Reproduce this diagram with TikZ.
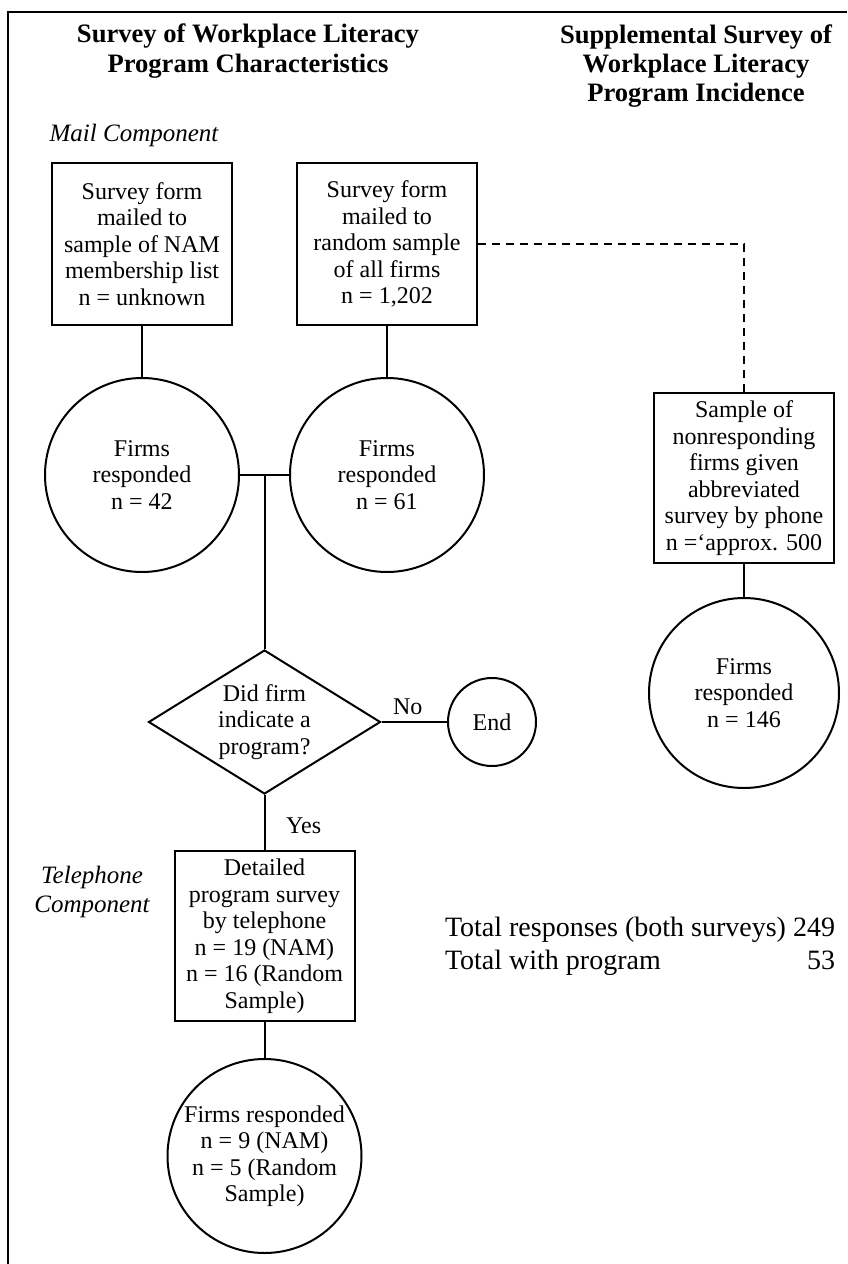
\documentclass[tikz,border=0pt]{standalone}
\usepackage{fontspec}
\setmainfont{Liberation Serif}
\usetikzlibrary{shapes.geometric, calc}

\newcommand{\boxfont}{\fontsize{12}{13.25}\selectfont}
\newcommand{\headfont}{\fontsize{13.3}{14.6}\selectfont\bfseries}
\newcommand{\totfont}{\fontsize{14}{16.5}\selectfont}

\begin{document}
\begin{tikzpicture}[x=0.5pt, y=-0.5pt, line width=1pt,
  stepbox/.style={draw, align=center, font=\boxfont, inner sep=2pt,
    minimum width=90pt, minimum height=81pt},
  resp/.style={draw, circle, align=center, font=\boxfont, inner sep=0pt,
    minimum size=97pt},
  decide/.style={draw, diamond, inner sep=0pt,
    minimum width=116pt, minimum height=72pt},
  lbl/.style={font=\boxfont, align=center},
  part/.style={font=\fontsize{12.5}{14.5}\selectfont\itshape, align=center}]
  \useasboundingbox (0,0) rectangle (847,1264);
  % frame
  \draw (8,1264) -- (8,12) -- (847,12);
  % headings
  \node[font=\headfont, align=center] (headL) at (248,51)
    {Survey of Workplace Literacy\\Program Characteristics};
  \node[font=\headfont, align=center] (headR) at (696,66)
    {Supplemental Survey of\\Workplace Literacy\\Program Incidence};
  \node[part, anchor=west] (mail) at (42,135) {Mail Component};
  \node[part] (phone) at (92,892) {Telephone\\Component};
  % mail component
  \node[stepbox] (nam) at (142,244)
    {Survey form\\mailed to\\sample of NAM\\membership list\\n = unknown};
  \node[stepbox] (rand) at (387,244)
    {Survey form\\mailed to\\random sample\\of all firms\\n = 1,202};
  \node[resp] (resp1) at (142,475) {Firms\\responded\\n = 42};
  \node[resp] (resp2) at (387,475) {Firms\\responded\\n = 61};
  \coordinate (join) at ($(resp1.east)!0.5!(resp2.west)$);
  % decision
  \node[decide] (dia) at (join |- 0,722) {};
  \node[lbl] (diaText) at (dia) {Did firm\\indicate a\\program?};
  \node[resp, minimum size=44pt] (end) at (492,722) {End};
  % telephone component
  \node[stepbox, minimum height=85pt] (tel) at (join |- 0,936)
    {Detailed\\program survey\\by telephone\\n = 19 (NAM)\\n = 16 (Random\\Sample)};
  \node[resp] (resp4) at (join |- 0,1156)
    {Firms responded\\n = 9 (NAM)\\n = 5 (Random\\Sample)};
  % supplemental survey
  \node[stepbox, minimum height=85pt] (abbr) at (744,478)
    {Sample of\\nonresponding\\firms given\\abbreviated\\survey by phone\\n =‘approx. 500};
  \node[resp, minimum size=95pt] (resp3) at (744,693) {Firms\\responded\\n = 146};
  % totals
  \node[font=\totfont, anchor=east, inner sep=0pt] (totals) at (836,946)
    {\begin{tabular}{@{}l@{\ }r@{}}
      Total responses (both surveys) & 249\\
      Total with program & 53
    \end{tabular}};
  % connectors
  \draw (nam) -- (resp1);
  \draw (rand) -- (resp2);
  \draw (resp1.east) -- (resp2.west);
  \draw (join) -- (dia.north);
  \draw (dia.east) -- node[lbl, above, pos=0.4] {No} (end.west);
  \draw (dia.south) -- node[lbl, right, pos=0.55, xshift=7pt] {Yes} (tel.north);
  \draw (tel) -- (resp4);
  \draw[dash pattern=on 4pt off 3pt] (rand.east) -| (abbr.north);
  \draw (abbr) -- (resp3);
\end{tikzpicture}
\end{document}
